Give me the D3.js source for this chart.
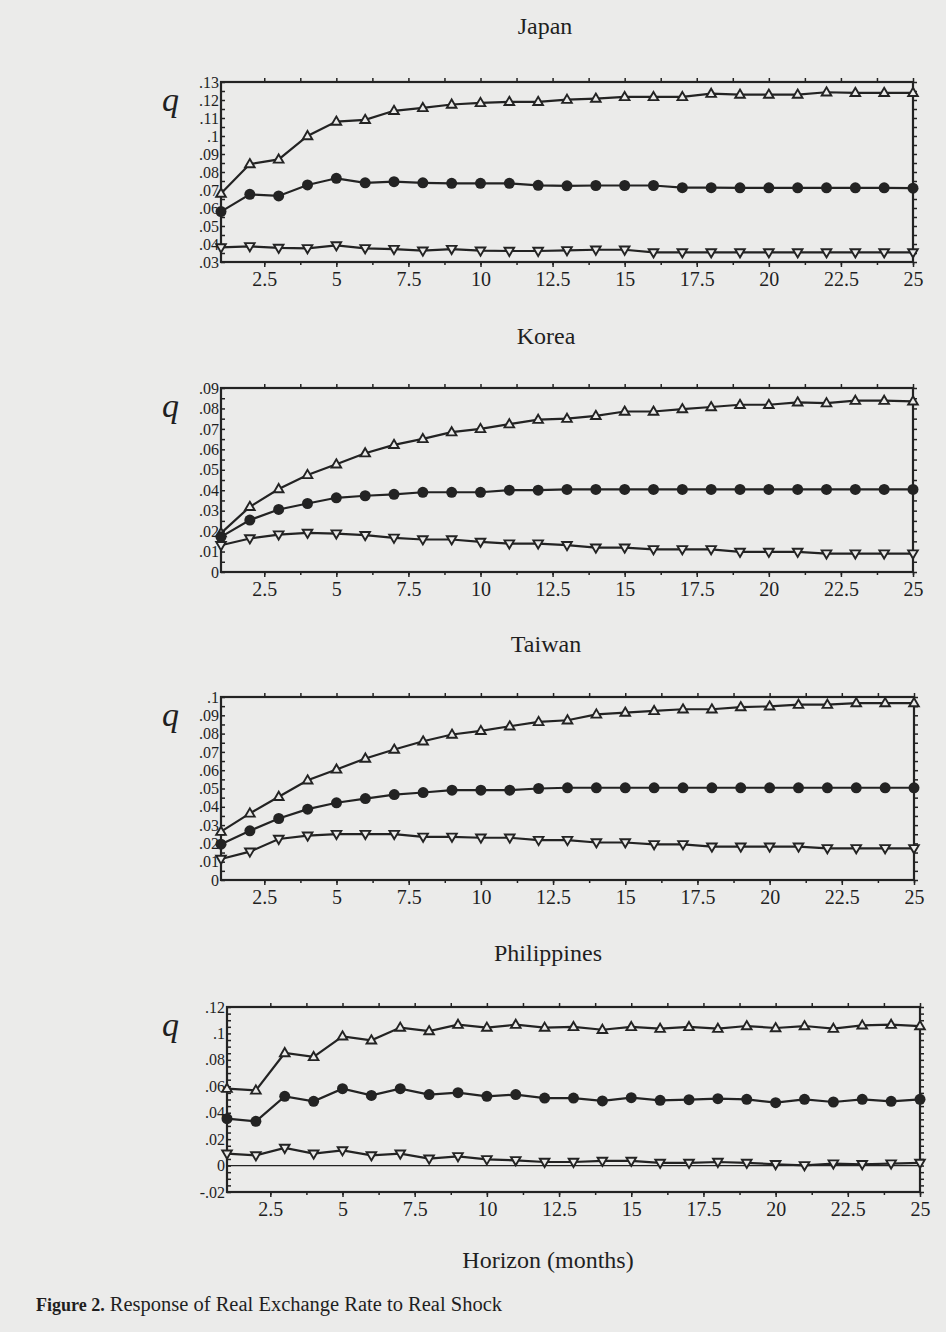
<!DOCTYPE html>
<html><head><meta charset="utf-8">
<script src="https://cdn.jsdelivr.net/npm/d3@7"></script>
<style>
body{margin:0;background:#ebebea;}
svg{display:block;}
text{font-family:"Liberation Serif","Times New Roman",serif;fill:#1f1f1f;}
</style></head>
<body>
<script>
// ---------- DATA ----------
const horizon = d3.range(1, 26); // months 1..25
const countries = ["Japan", "Korea", "Taiwan", "Philippines"];
const xTickLabels = [2.5, 5, 7.5, 10, 12.5, 15, 17.5, 20, 22.5, 25];

const japanUpper = [.068,.0844,.087,.100,.108,.109,.114,.1156,.1175,.1184,.119,.119,.1202,.1208,.1217,.1217,.1217,.1235,.123,.123,.123,.1243,.124,.124,.124];
const japanMid   = [.058,.0676,.0667,.0728,.0765,.074,.0746,.074,.0737,.0737,.0737,.0726,.0723,.0725,.0725,.0725,.0713,.0713,.0712,.0712,.0712,.0712,.0712,.0712,.071];
const japanLower = [.0381,.0387,.0378,.0376,.0392,.0376,.0372,.0363,.0372,.0363,.0361,.0361,.0365,.0368,.0368,.0353,.0353,.0353,.0353,.0353,.0353,.0353,.0353,.0353,.0353];

const koreaUpper = [.019,.0319,.0406,.0475,.0527,.0581,.0622,.0651,.0684,.0700,.0723,.0745,.075,.0764,.0785,.0785,.0797,.0807,.0818,.0818,.083,.0826,.0838,.0838,.0835];
const koreaMid   = [.0172,.0254,.0306,.0335,.0363,.0373,.038,.039,.039,.039,.040,.040,.0404,.0404,.0404,.0404,.0404,.0404,.0404,.0404,.0404,.0404,.0404,.0404,.0404];
const koreaLower = [.0131,.0164,.0183,.0191,.0188,.018,.0167,.0159,.0159,.0147,.0139,.0139,.0131,.0119,.0119,.0111,.0111,.0111,.0098,.0098,.0098,.009,.009,.009,.009];

const taiwanUpper = [.0264,.0364,.0455,.0545,.0604,.0664,.0713,.0758,.0795,.0815,.084,.0864,.0873,.0905,.0915,.0924,.0933,.0933,.0945,.0949,.0958,.0958,.0967,.0967,.0967];
const taiwanMid   = [.0196,.0269,.0336,.0387,.0422,.0445,.0467,.0478,.0491,.0491,.0491,.050,.0504,.0504,.0504,.0504,.0504,.0504,.0504,.0504,.0504,.0504,.0504,.0504,.0504];
const taiwanLower = [.0115,.0155,.0224,.0242,.0251,.0251,.0251,.0236,.0236,.0231,.0231,.0218,.0218,.0205,.0205,.0195,.0195,.0182,.0182,.0182,.0182,.0173,.0173,.0173,.0173];

const philUpper = [.0582,.0569,.0852,.0822,.0978,.0948,.1044,.1018,.1066,.1044,.1066,.1044,.1049,.1028,.1049,.1036,.1049,.1036,.1056,.1041,.1056,.1036,.1061,.1066,.1056];
const philMid   = [.0355,.0335,.0524,.0486,.0582,.0531,.0582,.0537,.0552,.0524,.0537,.0511,.0511,.0489,.0514,.0494,.0499,.0506,.0501,.0476,.0501,.0481,.0501,.0486,.0501];
const philLower = [.009,.0077,.0133,.009,.0115,.0077,.009,.0052,.007,.0047,.004,.0027,.0027,.0035,.0035,.002,.002,.0027,.002,.001,.0002,.0015,.001,.0015,.002];

const japanYTicks  = [.03,.04,.05,.06,.07,.08,.09,.10,.11,.12,.13];
const koreaYTicks  = [0,.01,.02,.03,.04,.05,.06,.07,.08,.09];
const taiwanYTicks = [0,.01,.02,.03,.04,.05,.06,.07,.08,.09,.10];
const philYTicks   = [-.02,0,.02,.04,.06,.08,.10,.12];

// ---------- LAYOUT ----------
const W = 946, H = 1332;
const panels = [
  {name: countries[0], series:[japanUpper,japanMid,japanLower], yTicks:japanYTicks, minorStep:.005,
   box:{l:221,r:913,t:82,b:262}, titleY:34, titleX:545},
  {name: countries[1], series:[koreaUpper,koreaMid,koreaLower], yTicks:koreaYTicks, minorStep:.005,
   box:{l:221,r:913,t:388,b:572}, titleY:344, titleX:546},
  {name: countries[2], series:[taiwanUpper,taiwanMid,taiwanLower], yTicks:taiwanYTicks, minorStep:.005,
   box:{l:221,r:914,t:697,b:880}, titleY:652, titleX:546},
  {name: countries[3], series:[philUpper,philMid,philLower], yTicks:philYTicks, minorStep:.005,
   box:{l:227,r:920,t:1007,b:1192}, titleY:961, titleX:548, zeroLine:true}
];

const ink = "#232323";
const bg = "#ebebea";
const svg = d3.select("body").append("svg").attr("width", W).attr("height", H);
svg.append("rect").attr("width", W).attr("height", H).attr("fill", bg);

const fmtY = v => {
  const r = Math.round(v*100)/100;
  if (r === 0) return "0";
  return String(r).replace("0.", ".");
};

panels.forEach(p => {
  const b = p.box;
  const yd = d3.extent(p.yTicks);
  const x = d3.scaleLinear().domain([1, 25]).range([b.l, b.r]);
  const y = d3.scaleLinear().domain(yd).range([b.b, b.t]);
  const g = svg.append("g");

  // title
  g.append("text").attr("x", p.titleX).attr("y", p.titleY)
    .attr("text-anchor","middle").attr("font-size", 24).text(p.name);

  // q label
  g.append("text").attr("x", 162).attr("y", b.t + 29)
    .attr("font-size", 34).attr("font-style","italic").text("q");

  const xMinor = d3.range(2.5, 25.01, 1.25);
  const yMinor = d3.range(yd[0], yd[1] + 1e-9, p.minorStep);

  // bottom axis (labels + ticks)
  const axB = d3.axisBottom(x).tickValues(xTickLabels).tickSize(5).tickPadding(5)
    .tickFormat(d => String(d));
  const gB = g.append("g").attr("transform", `translate(0,${b.b})`).call(axB);
  gB.selectAll("text").attr("font-size", 20).attr("font-family", '"Liberation Serif",serif').attr("fill", "#1f1f1f");
  g.append("g").attr("transform", `translate(0,${b.b})`)
    .call(d3.axisBottom(x).tickValues(xMinor).tickSize(3).tickFormat(""));
  // top ticks
  g.append("g").attr("transform", `translate(0,${b.t})`)
    .call(d3.axisTop(x).tickValues(xMinor).tickSize(4).tickFormat(""));
  // left axis
  const axL = d3.axisLeft(y).tickValues(p.yTicks).tickSize(0).tickPadding(2).tickFormat(fmtY);
  const gL = g.append("g").attr("transform", `translate(${b.l},0)`).call(axL);
  gL.selectAll("text").attr("font-size", 16).attr("font-family", '"Liberation Serif",serif').attr("fill", "#1f1f1f");
  g.append("g").attr("transform", `translate(${b.l},0)`)
    .call(d3.axisRight(y).tickValues(yMinor).tickSize(4).tickFormat(""));
  // right ticks
  g.append("g").attr("transform", `translate(${b.r},0)`)
    .call(d3.axisRight(y).tickValues(yMinor).tickSize(4).tickFormat(""));

  g.selectAll(".domain").remove();
  g.selectAll(".tick line").attr("stroke", ink).attr("stroke-width", 1.5);

  // frame
  g.append("rect").attr("x", b.l).attr("y", b.t).attr("width", b.r - b.l).attr("height", b.b - b.t)
    .attr("fill","none").attr("stroke", ink).attr("stroke-width", 2.2);

  if (p.zeroLine) {
    g.append("line").attr("x1", b.l).attr("x2", b.r).attr("y1", y(0)).attr("y2", y(0))
      .attr("stroke", ink).attr("stroke-width", 1.3);
  }

  const line = d3.line().x((d,i) => x(horizon[i])).y(d => y(d));
  p.series.forEach((s, si) => {
    g.append("path").datum(s).attr("d", line).attr("fill","none")
      .attr("stroke", ink).attr("stroke-width", 2.2);
    const pts = g.append("g").selectAll("g").data(s).join("g")
      .attr("transform", (d,i) => `translate(${x(horizon[i])},${y(d)})`);
    if (si === 1) {
      pts.append("circle").attr("r", 5.5).attr("fill", ink);
    } else {
      const up = si === 0;
      const path = up ? "M0,-5L4.8,3.2L-4.8,3.2Z" : "M0,5L4.8,-3.2L-4.8,-3.2Z";
      pts.append("path").attr("d", path).attr("fill", bg).attr("stroke", ink).attr("stroke-width", 1.9);
    }
  });
});

// x-axis title
svg.append("text").attr("x", 548).attr("y", 1268).attr("text-anchor","middle")
  .attr("font-size", 24).text("Horizon (months)");

// caption
const cap = svg.append("text").attr("x", 36).attr("y", 1311);
cap.append("tspan").attr("font-weight","bold").attr("font-size", 18).text("Figure 2.");
cap.append("tspan").attr("font-size", 20.5).text(" Response of Real Exchange Rate to Real Shock");
</script>
</body></html>
